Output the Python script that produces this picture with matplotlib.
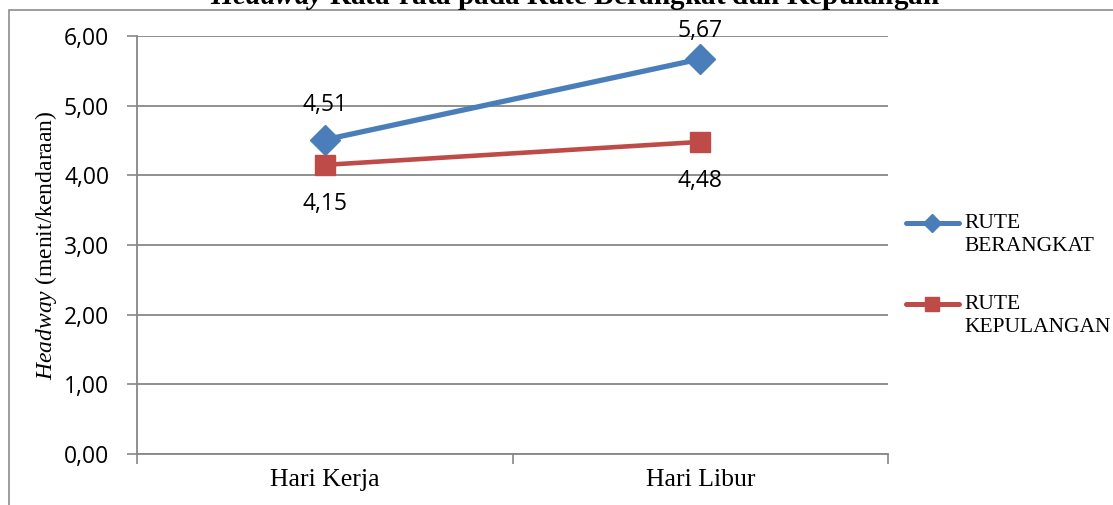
import matplotlib
matplotlib.use("Agg")
import matplotlib.pyplot as plt
from matplotlib.lines import Line2D
from matplotlib.patches import Rectangle

categories = ["Hari Kerja", "Hari Libur"]
rute_berangkat = [4.51, 5.67]
rute_kepulangan = [4.15, 4.48]
series_names = ["RUTE\nBERANGKAT", "RUTE\nKEPULANGAN"]
y_ticks = [0, 1, 2, 3, 4, 5, 6]

plt.rcParams["mathtext.fontset"] = "custom"
plt.rcParams["mathtext.rm"] = "Liberation Serif"
plt.rcParams["mathtext.it"] = "Liberation Serif:italic"
plt.rcParams["mathtext.bf"] = "Liberation Serif:bold"
plt.rcParams["mathtext.bfit"] = "Liberation Serif:italic:bold"

BLUE = "#4A7EBB"
RED = "#BE4B48"
GRID = "#878787"
SANS = "Open Sans"
SERIF = "Liberation Serif"

W, H = 1113, 505
fig = plt.figure(figsize=(W / 100, H / 100), dpi=100)


def fpos(px, py):
    """Pixel position (from top-left) to figure fraction."""
    return px / W, 1 - py / H


ax = fig.add_axes([137 / W, 1 - 454 / H, (888 - 137) / W, (454 - 36) / H])

# outer chart border
fig.add_artist(Rectangle((9 / W, -0.05), 1.2, 1 - 10 / H + 0.05,
                         transform=fig.transFigure, fill=False,
                         edgecolor="#8c8c8c", linewidth=1.2))

x = [0.5, 1.5]
ax.plot(x, rute_berangkat, color=BLUE, lw=3.8, marker="D", ms=15,
        markerfacecolor=BLUE, markeredgecolor=BLUE, zorder=3)
ax.plot(x, rute_kepulangan, color=RED, lw=3.3, marker="s", ms=14.5,
        markerfacecolor=RED, markeredgecolor=RED, zorder=3)


def fmt(v):
    return f"{v:.2f}".replace(".", ",")


for xi, v, dy in zip(x, rute_berangkat, (25, 20)):
    ax.annotate(fmt(v), (xi, v), xytext=(0, dy), textcoords="offset points",
                ha="center", va="center", fontsize=16.5, family=SANS)
for xi, v in zip(x, rute_kepulangan):
    ax.annotate(fmt(v), (xi, v), xytext=(0, -28), textcoords="offset points",
                ha="center", va="center", fontsize=16.5, family=SANS)

ax.set_xlim(0, 2)
ax.set_ylim(0, 6)
ax.set_yticks(y_ticks)
ax.set_yticklabels([fmt(t) for t in y_ticks], fontsize=16.5, family=SANS)
ax.set_xticks([0, 1, 2])
ax.set_xticklabels([])
ax.set_xticks(x, minor=True)
ax.set_xticklabels(categories, minor=True, fontsize=18.5, family=SERIF)
ax.tick_params(axis="x", which="minor", length=0, pad=11)
ax.tick_params(axis="both", which="major", length=7, width=1.2, color=GRID)
ax.tick_params(axis="y", pad=13)

ax.grid(axis="y", color=GRID, lw=1.3)
ax.set_axisbelow(True)
for s in ("top", "right"):
    ax.spines[s].set_visible(False)
for s in ("left", "bottom"):
    ax.spines[s].set_color(GRID)
    ax.spines[s].set_linewidth(1.3)

ax.set_ylabel(r"$\mathit{Headway}$ (menit/kendaraan)", fontsize=17, family=SERIF)
ax.yaxis.set_label_coords((59 - 137) / (888 - 137), 0.5)

fig.text(*fpos(575, 4),
         r"$\mathbfit{Headway}$ Rata-rata pada Rute Berangkat dan Kepulangan",
         ha="center", va="baseline", fontsize=21, fontweight="bold", family=SERIF)

# legend drawn by hand: handle aligned with the first text line
legend_rows = [
    (BLUE, "D", 9, 223, 235),
    (RED, "s", 9.5, 304, 316),
]
for (color, marker, msize, y_line, y_text), name in zip(legend_rows, series_names):
    x0, yl = fpos(906, y_line)
    x1, _ = fpos(959, y_line)
    xm, _ = fpos(932, y_line)
    fig.add_artist(Line2D([x0, x1], [yl, yl], transform=fig.transFigure,
                          color=color, lw=3.6, solid_capstyle="round"))
    fig.add_artist(Line2D([xm], [yl], transform=fig.transFigure, color=color,
                          marker=marker, ms=msize, lw=0))
    fig.text(*fpos(964, y_text), name, ha="left", va="center",
             fontsize=15.5, family=SERIF, linespacing=1.3)

fig.savefig("out.png", dpi=100)
